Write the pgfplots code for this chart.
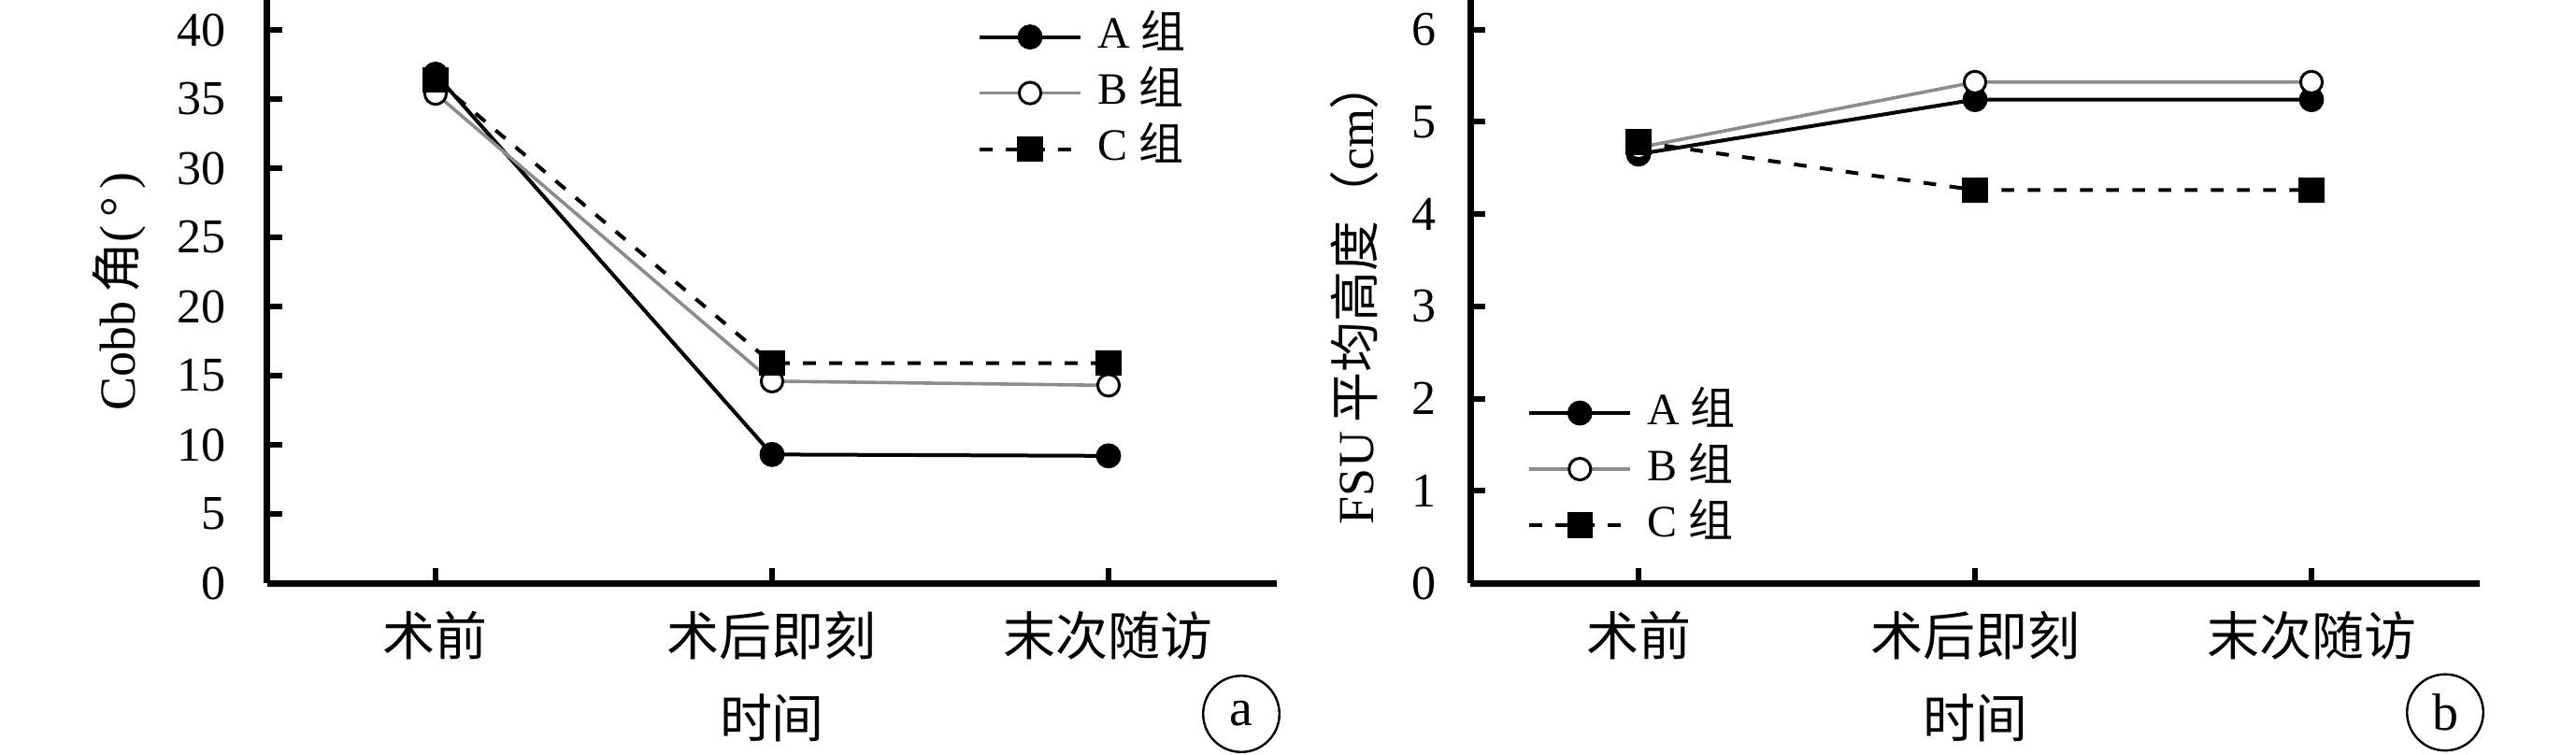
\documentclass[border=0pt]{standalone}
\usepackage{fontspec}
\setmainfont{Liberation Serif}
\newfontfamily\cjk{Noto Sans CJK SC}
\usepackage{pgfplots}
\pgfplotsset{compat=1.18}
\pgfplotsset{
  myax/.style={
    scale only axis, width=270pt, height=156pt,
    xmin=-0.5, xmax=2.5, ymin=0,
    axis x line*=bottom, axis y line*=left,
    axis line style={line width=1.75pt, -},
    xtick={0,1,2},
    xticklabels={{\cjk 术前},{\cjk 术后即刻},{\cjk 末次随访}},
    tick align=inside, major tick length=4pt,
    tick style={line width=1.5pt, black},
    yticklabel style={font=\fontsize{13}{15}\selectfont},
    xticklabel style={font=\fontsize{14}{16}\selectfont, yshift=-4pt},
    /pgf/number format/assume math mode=true,
    xlabel={\cjk 时间},
    x label style={at={(axis description cs:0.5,-0.231)}, anchor=center, font=\fontsize{14}{16}\selectfont},
    y label style={anchor=center, font=\fontsize{13.5}{15}\selectfont},
    legend image code/.code={\draw[mark repeat=2,mark phase=2,#1] plot coordinates {(0pt,0pt) (13.5pt,0pt) (27pt,0pt)};},
    legend cell align=left,
  },
  sA/.style={black, line width=1pt, mark=*, mark size=2.85pt, mark options={solid, fill=black}},
  sB/.style={black!45, line width=0.9pt, mark=*, mark size=2.9pt, mark options={solid, fill=white, draw=black, line width=0.75pt}},
  sC/.style={black, line width=1pt, dash pattern=on 3.4pt off 3.6pt, mark=square*, mark size=2.9pt, mark options={solid, fill=black}},
  lg/.style={draw=none, fill=none, inner sep=0pt, row sep=0pt,
    font=\fontsize{12}{14}\selectfont,
    nodes={inner sep=1.5pt, text height=9pt, text depth=3pt},
    /tikz/every odd column/.append style={column sep=2.5pt}},
}
\begin{document}
\begin{tikzpicture}
\path[use as bounding box] (0,0) rectangle (689pt,-201.75pt);
\begin{axis}[myax, at={(71.5pt,-156pt)}, anchor=south west,
  ymax=42.16, ytick={0,5,...,40},
  yticklabel style={xshift=-7.7pt},
  ylabel={Cobb\,{\cjk 角}(\,°\,)},
  y label style={at={(axis description cs:-0.147,0.5)}},
  legend style={lg, at={(rel axis cs:0.703,0.986)}, anchor=north west}]
\addplot[sA] coordinates {(0,36.8) (1,9.3) (2,9.2)};
\addlegendentry{A {\cjk 组}}
\addplot[sB] coordinates {(0,35.4) (1,14.6) (2,14.3)};
\addlegendentry{B {\cjk 组}}
\addplot[sC] coordinates {(0,36.4) (1,15.9) (2,15.9)};
\addlegendentry{C {\cjk 组}}
\end{axis}
\begin{axis}[myax, at={(393.25pt,-156pt)}, anchor=south west,
  ymax=6.32, ytick={0,1,...,6},
  yticklabel style={xshift=-5.6pt},
  ylabel={FSU\,{\cjk 平均高度（}cm{\cjk ）}},
  y label style={at={(axis description cs:-0.115,0.5)}},
  legend style={lg, at={(rel axis cs:0.056,0.341)}, anchor=north west}]
\addplot[sA] coordinates {(0,4.65) (1,5.24) (2,5.24)};
\addlegendentry{A {\cjk 组}}
\addplot[sB] coordinates {(0,4.72) (1,5.43) (2,5.43)};
\addlegendentry{B {\cjk 组}}
\addplot[sC] coordinates {(0,4.78) (1,4.26) (2,4.26)};
\addlegendentry{C {\cjk 组}}
\end{axis}
\node[draw, circle, line width=0.6pt, minimum size=20.4pt, inner sep=0pt, font=\fontsize{14}{16}\selectfont] at (332pt,-191pt) {a};
\node[draw, circle, line width=0.6pt, minimum size=20.4pt, inner sep=0pt, font=\fontsize{14}{16}\selectfont] at (654pt,-190.6pt) {b};
\end{tikzpicture}
\end{document}
